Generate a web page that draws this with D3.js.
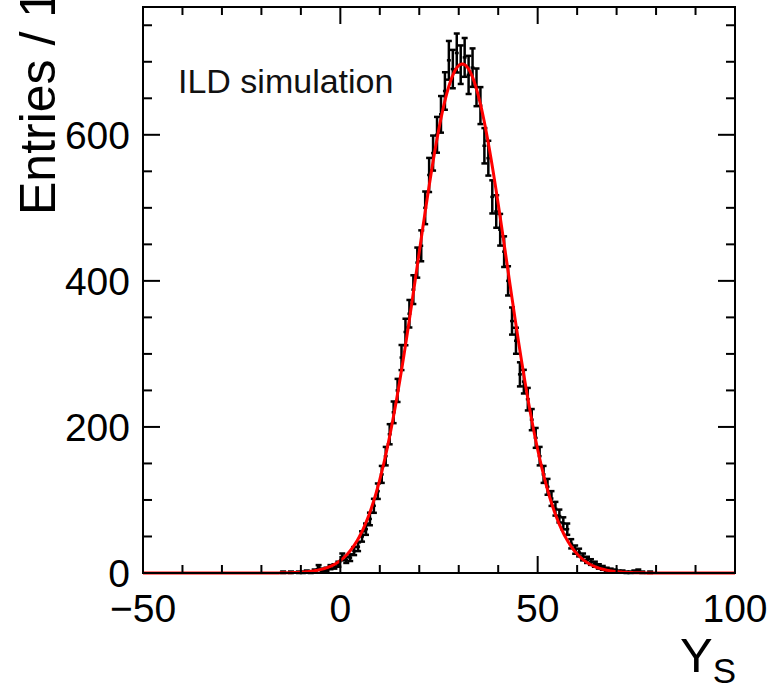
<!DOCTYPE html>
<html>
<head>
<meta charset="utf-8">
<script src="https://cdn.jsdelivr.net/npm/d3@7"></script>
<style>
  body { margin: 0; background: #fff; }
  svg { display: block; }
</style>
</head>
<body>
<script>
// Histogram: entries per bin of width 1, bins [k, k+1)
var firstBin = -16
var counts = [
    0, 1, 0, 1, 0, 1, 1, 2, 1, 3, 8, 4, 5, 8, 9, 12,          // -16 .. -1
    22, 18, 21, 30, 36, 50, 60, 74, 92, 112,                  // 0 .. 9
    135, 160, 190, 220, 250, 295, 330, 355, 388, 425,         // 10 .. 19
    448, 500, 545, 575, 600, 628, 660, 702, 690, 712,         // 20 .. 29
    696, 706, 682, 692, 665, 640, 585, 568, 515, 495,         // 30 .. 39
    470, 440, 400, 345, 318, 272, 262, 238, 210, 185,         // 40 .. 49
    160, 135, 118, 102, 88, 78, 68, 60, 40, 32,               // 50 .. 59
    28, 22, 18, 15, 12, 9, 7, 5, 4, 3,                        // 60 .. 69
    2, 2, 1, 1, 2, 3, 1, 0, 1                                 // 70 .. 78
]

// Gaussian fit (constant, mean, sigma)
var fitConstant = 697
var fitMean = 30.9
var fitSigma = 11.35

var xTicksMajor = [-50, 0, 50, 100]
var yTicksMajor = [0, 200, 400, 600]

var width = 773
var height = 686
var frame = { left: 143, right: 735, top: 7, bottom: 573 }
var font = '"Liberation Sans", Arial, Helvetica, sans-serif'

var x = d3.scaleLinear().domain([-50, 100]).range([frame.left, frame.right])
var y = d3.scaleLinear().domain([0, 775]).range([frame.bottom, frame.top])

var svg = d3.select('body').append('svg')
    .attr('width', width)
    .attr('height', height)

// Fit curve
var fitPoints = d3.range(-50, 100.01, 0.25).map(function (v) {
    var d = (v - fitMean) / fitSigma
    return [v, fitConstant * Math.exp(-0.5 * d * d)]
})

// Data points with error bars
var bins = counts.map(function (n, i) { return { lo: firstBin + i, n: n } })
    .filter(function (d) { return d.n > 0 })

var pts = svg.append('g')
    .attr('stroke', '#000')
    .attr('stroke-width', 2.5)

bins.forEach(function (d) {
    var cx = x(d.lo + 0.5)
    var err = Math.sqrt(d.n)
    var yTop = y(d.n + err)
    var yBot = y(d.n - err)
    pts.append('line').attr('x1', cx).attr('x2', cx).attr('y1', yTop).attr('y2', yBot)
    pts.append('line').attr('x1', cx - 3).attr('x2', cx + 3).attr('y1', yTop).attr('y2', yTop)
    pts.append('line').attr('x1', cx - 3).attr('x2', cx + 3).attr('y1', yBot).attr('y2', yBot)
    pts.append('line').attr('x1', x(d.lo)).attr('x2', x(d.lo + 1)).attr('y1', y(d.n)).attr('y2', y(d.n))
})

svg.append('path')
    .attr('d', d3.line().x(function (p) { return x(p[0]) }).y(function (p) { return y(p[1]) })(fitPoints))
    .attr('fill', 'none')
    .attr('stroke', '#ff0000')
    .attr('stroke-width', 3)

// Frame
svg.append('rect')
    .attr('x', frame.left)
    .attr('y', frame.top)
    .attr('width', frame.right - frame.left)
    .attr('height', frame.bottom - frame.top)
    .attr('fill', 'none')
    .attr('stroke', '#000')
    .attr('stroke-width', 2)

// Ticks on all four sides
var ticks = svg.append('g').attr('stroke', '#000').attr('stroke-width', 2)

d3.range(-50, 100.01, 10).forEach(function (v) {
    var len = xTicksMajor.indexOf(v) >= 0 ? 17 : 8
    ticks.append('line').attr('x1', x(v)).attr('x2', x(v)).attr('y1', frame.bottom).attr('y2', frame.bottom - len)
    ticks.append('line').attr('x1', x(v)).attr('x2', x(v)).attr('y1', frame.top).attr('y2', frame.top + len)
})

d3.range(0, 775, 50).forEach(function (v) {
    var len = v % 200 === 0 ? 17 : 9
    ticks.append('line').attr('x1', frame.left).attr('x2', frame.left + len).attr('y1', y(v)).attr('y2', y(v))
    ticks.append('line').attr('x1', frame.right).attr('x2', frame.right - len).attr('y1', y(v)).attr('y2', y(v))
})

// Tick labels
svg.append('g')
    .attr('font-family', font)
    .attr('font-size', 39)
    .attr('text-anchor', 'middle')
    .selectAll('text')
    .data(xTicksMajor)
    .join('text')
    .attr('x', function (d) { return x(d) })
    .attr('y', 622)
    .text(function (d) { return d < 0 ? '\u2212' + Math.abs(d) : d })

svg.append('g')
    .attr('font-family', font)
    .attr('font-size', 39)
    .attr('text-anchor', 'end')
    .selectAll('text')
    .data(yTicksMajor)
    .join('text')
    .attr('x', 130)
    .attr('y', function (d) { return y(d) + 14 })
    .text(function (d) { return d })

// Axis titles
svg.append('text')
    .attr('transform', 'translate(55,215) rotate(-90)')
    .attr('font-family', font)
    .attr('font-size', 50)
    .text('Entries / 1')

var xt = svg.append('text')
    .attr('x', 736)
    .attr('y', 672)
    .attr('text-anchor', 'end')
    .attr('font-family', font)
    .attr('font-size', 49)
xt.append('tspan').text('Y')
xt.append('tspan').attr('font-size', 35).attr('dy', 11).text('S')

svg.append('text')
    .attr('x', 178)
    .attr('y', 93)
    .attr('font-family', font)
    .attr('font-size', 34)
    .attr('fill', '#111')
    .text('ILD simulation')
</script>
</body>
</html>
